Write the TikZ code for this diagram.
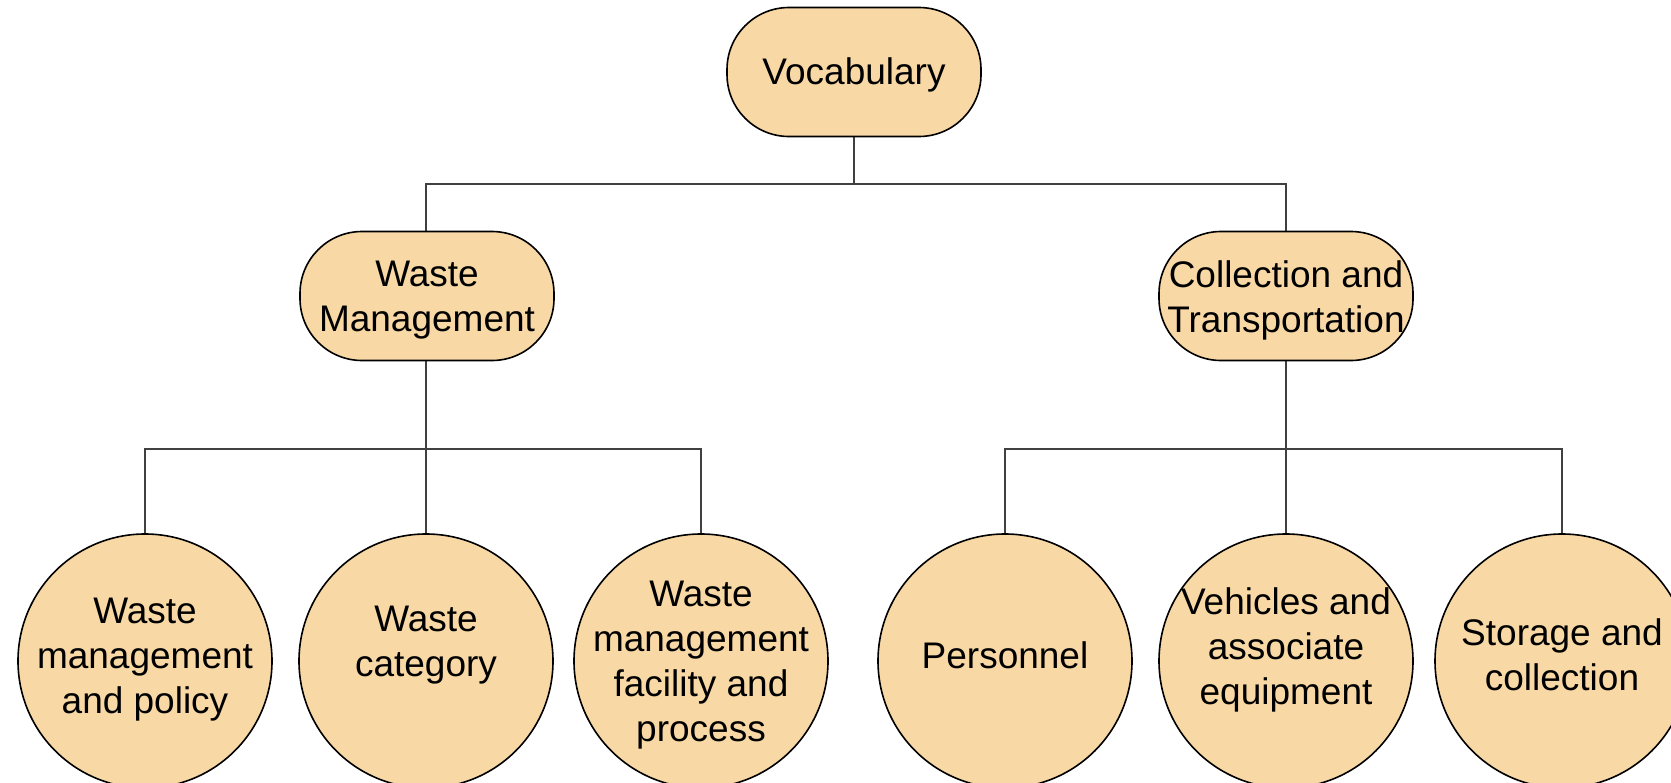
\documentclass[tikz,border=0pt]{standalone}
\usepackage{fontspec}
\setmainfont{Liberation Sans}
\definecolor{boxfill}{HTML}{F8D8A5}
\definecolor{linkcol}{HTML}{404040}
\begin{document}
\begin{tikzpicture}[x=1pt,y=-1pt,
  every node/.style={font=\fontsize{37pt}{45pt}\selectfont, align=center, text=black},
  pill/.style={draw=black, line width=1.6pt, fill=boxfill, rectangle, rounded corners=62pt,
    minimum width=254pt, minimum height=129pt, inner sep=0pt},
  ball/.style={draw=black, line width=1.6pt, fill=boxfill, circle, minimum size=254pt, inner sep=0pt},
  lbl/.style={inner sep=0pt},
  link/.style={draw=linkcol, line width=1.2pt}]
\useasboundingbox (0,0) rectangle (1671,782);
\fill[white] (0,0) rectangle (1671,782);

\coordinate (j1) at (854,184);
\coordinate (j2) at (426,449);
\coordinate (j3) at (1286,449);

\draw[link] (854,137) -- (j1);
\draw[link] (426,232) |- (j1) -| (1286,232);
\draw[link] (426,360) -- (426,534);
\draw[link] (145,534) |- (j2) -| (701,534);
\draw[link] (1286,360) -- (1286,534);
\draw[link] (1005,534) |- (j3) -| (1562,534);

\node[pill] (voc) at (854,72) {};
\node[pill] (wm) at (427,296) {};
\node[pill] (ct) at (1286,296) {};
\node[lbl] (tvoc) at (854,75) {Vocabulary};
\node[lbl] (twm) at (427,300) {Waste\\Management};
\node[lbl] (tct) at (1286,300) {Collection and\\Transportation};

\node[ball] (c1) at (145,661) {};
\node[ball] (c2) at (426,661) {};
\node[ball] (c3) at (701,661) {};
\node[ball] (c4) at (1005,661) {};
\node[ball] (c5) at (1286,661) {};
\node[ball] (c6) at (1562,661) {};
\node[lbl] (t1) at (145,660) {Waste\\management\\and policy};
\node[lbl] (t2) at (426,645) {Waste\\category};
\node[lbl] (t3) at (701,665) {Waste\\management\\facility and\\process};
\node[lbl] (t4) at (1005,655) {Personnel};
\node[lbl] (t5) at (1286,650) {Vehicles and\\associate\\equipment};
\node[lbl] (t6) at (1562,655) {Storage and\\collection};
\end{tikzpicture}
\end{document}
